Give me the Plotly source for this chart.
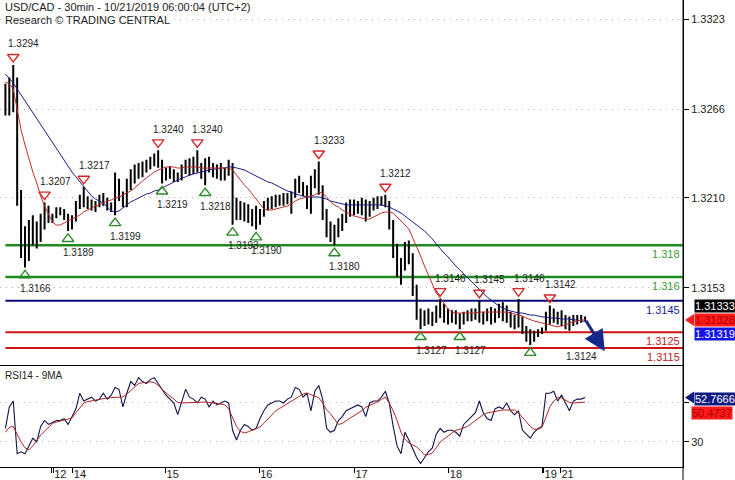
import plotly.graph_objects as go

# ---------------- data ----------------
bar_open = [1.3272,1.3278,1.3268,1.3284,1.3212,1.3180,1.3175,1.3190,1.3185,1.3188,
            1.3197,1.3203,1.3196,1.3198,1.3203,1.3202,1.3198,1.3193,1.3197,1.3205,
            1.3209,1.3207,1.3206,1.3204,1.3207,1.3210,1.3207,1.3204,1.3203,1.3218,
            1.3212,1.3206,1.3219,1.3224,1.3228,1.3225,1.3230,1.3229,1.3234,1.3236,
            1.3232,1.3224,1.3227,1.3225,1.3223,1.3222,1.3229,1.3231,1.3227,1.3233,
            1.3230,1.3225,1.3232,1.3229,1.3227,1.3229,1.3224,1.3227,1.3231,1.3202,
            1.3200,1.3204,1.3198,1.3201,1.3195,1.3198,1.3201,1.3206,1.3207,1.3208,
            1.3209,1.3210,1.3211,1.3210,1.3212,1.3219,1.3217,1.3214,1.3208,1.3221,
            1.3225,1.3216,1.3200,1.3190,1.3186,1.3188,1.3194,1.3196,1.3204,1.3206,
            1.3202,1.3205,1.3207,1.3201,1.3205,1.3208,1.3209,1.3210,1.3207,1.3194,
            1.3178,1.3165,1.3168,1.3178,1.3172,1.3152,1.3137,1.3132,1.3136,1.3134,
            1.3135,1.3139,1.3141,1.3135,1.3136,1.3137,1.3133,1.3134,1.3136,1.3137,
            1.3135,1.3138,1.3134,1.3136,1.3138,1.3134,1.3138,1.3137,1.3139,1.3135,
            1.3132,1.3131,1.3133,1.3127,1.3123,1.3121,1.3124,1.3126,1.3127,1.3135,
            1.3137,1.3134,1.3136,1.3132,1.3131,1.3133,1.3134,1.3133,1.3134]
bar_high = [1.3282,1.3286,1.3294,1.3286,1.3215,1.3192,1.3196,1.3199,1.3195,1.3200,
            1.3207,1.3205,1.3200,1.3204,1.3204,1.3203,1.3200,1.3199,1.3208,1.3212,
            1.3217,1.3211,1.3209,1.3208,1.3212,1.3213,1.3210,1.3207,1.3226,1.3222,
            1.3214,1.3222,1.3228,1.3231,1.3232,1.3233,1.3234,1.3236,1.3238,1.3240,
            1.3234,1.3229,1.3230,1.3228,1.3226,1.3231,1.3234,1.3235,1.3236,1.3240,
            1.3232,1.3235,1.3236,1.3232,1.3231,1.3232,1.3229,1.3234,1.3232,1.3210,
            1.3208,1.3207,1.3206,1.3203,1.3205,1.3203,1.3208,1.3210,1.3211,1.3212,
            1.3212,1.3213,1.3213,1.3214,1.3222,1.3224,1.3220,1.3218,1.3224,1.3228,
            1.3233,1.3218,1.3203,1.3195,1.3193,1.3197,1.3200,1.3207,1.3209,1.3209,
            1.3208,1.3210,1.3209,1.3208,1.3210,1.3211,1.3211,1.3212,1.3208,1.3196,
            1.3181,1.3172,1.3182,1.3183,1.3175,1.3155,1.3140,1.3139,1.3140,1.3138,
            1.3142,1.3146,1.3143,1.3140,1.3139,1.3139,1.3137,1.3138,1.3139,1.3140,
            1.3140,1.3145,1.3138,1.3140,1.3141,1.3140,1.3143,1.3144,1.3142,1.3138,
            1.3136,1.3146,1.3135,1.3129,1.3127,1.3126,1.3127,1.3128,1.3138,1.3142,
            1.3140,1.3138,1.3139,1.3136,1.3135,1.3136,1.3136,1.3136,1.3135]
bar_low = [1.3262,1.3262,1.3264,1.3205,1.3172,1.3166,1.3170,1.3180,1.3178,1.3182,
           1.3190,1.3194,1.3194,1.3197,1.3199,1.3196,1.3189,1.3190,1.3195,1.3203,
           1.3204,1.3203,1.3202,1.3201,1.3204,1.3205,1.3202,1.3201,1.3199,1.3208,
           1.3204,1.3204,1.3215,1.3219,1.3222,1.3223,1.3226,1.3228,1.3230,1.3229,
           1.3219,1.3221,1.3222,1.3220,1.3220,1.3221,1.3225,1.3224,1.3225,1.3226,
           1.3222,1.3218,1.3226,1.3223,1.3222,1.3221,1.3221,1.3224,1.3193,1.3196,
           1.3196,1.3195,1.3194,1.3192,1.3190,1.3193,1.3198,1.3202,1.3203,1.3204,
           1.3205,1.3205,1.3206,1.3200,1.3210,1.3213,1.3211,1.3203,1.3200,1.3216,
           1.3212,1.3196,1.3185,1.3182,1.3180,1.3185,1.3189,1.3194,1.3198,1.3199,
           1.3200,1.3199,1.3195,1.3198,1.3202,1.3203,1.3205,1.3204,1.3190,1.3172,
           1.3160,1.3155,1.3164,1.3168,1.3148,1.3133,1.3127,1.3129,1.3130,1.3129,
           1.3131,1.3134,1.3131,1.3130,1.3131,1.3130,1.3127,1.3130,1.3132,1.3132,
           1.3133,1.3131,1.3130,1.3132,1.3130,1.3131,1.3134,1.3132,1.3131,1.3128,
           1.3127,1.3128,1.3124,1.3119,1.3117,1.3119,1.3122,1.3124,1.3126,1.3130,
           1.3131,1.3130,1.3129,1.3127,1.3126,1.3129,1.3130,1.3131,1.3132]
bar_close = [1.3278,1.3268,1.3284,1.3212,1.3180,1.3175,1.3190,1.3185,1.3188,1.3197,
             1.3203,1.3196,1.3198,1.3203,1.3202,1.3198,1.3193,1.3197,1.3205,1.3209,
             1.3207,1.3206,1.3204,1.3207,1.3210,1.3207,1.3204,1.3203,1.3218,1.3212,
             1.3206,1.3219,1.3224,1.3228,1.3225,1.3230,1.3229,1.3234,1.3236,1.3232,
             1.3224,1.3227,1.3225,1.3223,1.3222,1.3229,1.3231,1.3227,1.3233,1.3230,
             1.3225,1.3232,1.3229,1.3227,1.3229,1.3224,1.3227,1.3231,1.3202,1.3200,
             1.3204,1.3198,1.3201,1.3195,1.3198,1.3201,1.3206,1.3207,1.3208,1.3209,
             1.3210,1.3211,1.3210,1.3212,1.3219,1.3217,1.3214,1.3208,1.3221,1.3225,
             1.3216,1.3200,1.3190,1.3186,1.3188,1.3194,1.3196,1.3204,1.3206,1.3202,
             1.3205,1.3207,1.3201,1.3205,1.3208,1.3209,1.3210,1.3207,1.3194,1.3178,
             1.3165,1.3168,1.3178,1.3172,1.3152,1.3137,1.3132,1.3136,1.3134,1.3135,
             1.3139,1.3141,1.3135,1.3136,1.3137,1.3133,1.3134,1.3136,1.3137,1.3135,
             1.3138,1.3134,1.3136,1.3138,1.3134,1.3138,1.3137,1.3139,1.3135,1.3132,
             1.3131,1.3133,1.3127,1.3123,1.3121,1.3124,1.3126,1.3127,1.3135,1.3137,
             1.3134,1.3136,1.3132,1.3131,1.3133,1.3134,1.3133,1.3134,1.31333]

ma_fast = [1.32832,1.32819,1.32788,1.32668,1.32529,1.32434,1.32339,1.32263,1.32194,1.32111,
           1.32048,1.31998,1.31947,1.31928,1.31928,1.31941,1.31953,1.31966,1.31979,1.31991,
           1.32010,1.32023,1.32036,1.32048,1.32055,1.32067,1.32080,1.32086,1.32099,1.32105,
           1.32118,1.32130,1.32143,1.32162,1.32187,1.32206,1.32225,1.32244,1.32263,1.32276,
           1.32288,1.32295,1.32295,1.32295,1.32288,1.32288,1.32295,1.32295,1.32295,1.32295,
           1.32288,1.32288,1.32288,1.32288,1.32288,1.32288,1.32288,1.32288,1.32276,1.32244,
           1.32213,1.32181,1.32156,1.32124,1.32086,1.32055,1.32029,1.32023,1.32023,1.32029,
           1.32036,1.32042,1.32048,1.32061,1.32080,1.32092,1.32099,1.32105,1.32111,1.32118,
           1.32137,1.32130,1.32105,1.32074,1.32055,1.32042,1.32023,1.32010,1.31998,1.31985,
           1.31979,1.31972,1.31966,1.31966,1.31979,1.31991,1.32004,1.32010,1.32010,1.32004,
           1.31979,1.31953,1.31928,1.31903,1.31846,1.31794,1.31732,1.31669,1.31612,1.31549,
           1.31498,1.31467,1.31429,1.31397,1.31378,1.31372,1.31372,1.31372,1.31372,1.31372,
           1.31372,1.31378,1.31378,1.31378,1.31378,1.31378,1.31378,1.31378,1.31378,1.31372,
           1.31366,1.31359,1.31353,1.31340,1.31328,1.31321,1.31315,1.31309,1.31303,1.31296,
           1.31290,1.31284,1.31290,1.31296,1.31309,1.31315,1.31321,1.31328,1.31328]
ma_slow = [1.32882,1.32857,1.32826,1.32788,1.32750,1.32712,1.32674,1.32636,1.32598,1.32560,
           1.32522,1.32484,1.32446,1.32408,1.32371,1.32333,1.32295,1.32263,1.32232,1.32200,
           1.32168,1.32137,1.32111,1.32092,1.32080,1.32067,1.32042,1.32017,1.32010,1.32017,
           1.32036,1.32055,1.32074,1.32086,1.32099,1.32111,1.32124,1.32130,1.32143,1.32149,
           1.32162,1.32175,1.32187,1.32200,1.32213,1.32225,1.32232,1.32244,1.32250,1.32257,
           1.32263,1.32269,1.32276,1.32282,1.32282,1.32288,1.32288,1.32295,1.32295,1.32288,
           1.32282,1.32276,1.32263,1.32250,1.32238,1.32225,1.32213,1.32200,1.32194,1.32181,
           1.32168,1.32156,1.32143,1.32137,1.32124,1.32118,1.32111,1.32105,1.32105,1.32105,
           1.32105,1.32099,1.32092,1.32080,1.32074,1.32067,1.32061,1.32055,1.32055,1.32055,
           1.32055,1.32055,1.32055,1.32055,1.32055,1.32055,1.32055,1.32048,1.32042,1.32029,
           1.32017,1.32004,1.31985,1.31966,1.31947,1.31928,1.31909,1.31890,1.31865,1.31840,
           1.31808,1.31777,1.31751,1.31726,1.31694,1.31669,1.31644,1.31619,1.31593,1.31568,
           1.31543,1.31517,1.31492,1.31473,1.31454,1.31435,1.31416,1.31404,1.31391,1.31385,
           1.31378,1.31372,1.31372,1.31366,1.31359,1.31359,1.31353,1.31347,1.31347,1.31340,
           1.31340,1.31340,1.31334,1.31334,1.31334,1.31328,1.31328,1.31322,1.31319]

rsi = [37,48,51,24,25,24,28,32,30,38,
       41,39,40,41,41,42,39,43,47,55,
       51,52,53,51,52,55,52,54,58,57,
       48,55,61,59,63,61,60,62,63,60,
       57,54,52,50,44,51,57,53,52,50,
       53,52,48,51,49,50,51,50,36,31,
       36,39,38,36,37,42,46,49,50,51,
       51,50,52,53,58,57,53,55,46,56,
       59,52,37,35,36,41,43,46,47,48,
       49,48,43,50,51,51,53,56,50,38,
       28,24,35,31,26,22,19,22,25,27,
       34,37,35,36,36,35,33,39,41,43,
       45,51,45,42,41,47,48,47,50,46,
       44,46,36,34,32,35,37,38,55,55,
       56,51,54,50,46,51,52,52,52.7666]
rsi_ma = [35,37.5,38,34,30,27,26,28,31,33.5,
          35.5,37.5,39.5,40.2,40.8,41.3,41.8,42.3,45,47.5,
          50,50.7,51.1,51.5,51.9,52.3,52.6,52.7,52.9,53,
          53.1,54.6,56.3,58,60,60.4,60.6,60.8,60.5,59,
          57,55.1,53.5,52,50.3,50,50.1,50.2,50.3,50.4,
          50.5,50.5,50.3,50,49.7,49.4,49.1,47,42.8,38,
          35.5,34.6,35.2,36.1,37,37.7,39.6,41.6,43.9,46,
          47.2,48.4,49.7,51.2,52.3,53.5,54.6,55.1,54.4,53.5,
          52.7,50,46.5,44.5,41.5,39,39.5,41,42.3,43.5,
          44.8,46,47.8,48.6,49.5,50.6,51.8,53,50,46,
          41,35,31.5,29.5,28.5,27.5,25.5,23.5,23.5,24.4,
          27,30,31.6,33,34.5,36,36.5,37.2,38,39.5,
          41,42.5,44,44.9,45.3,45.7,46.1,46.4,46.4,46.4,
          46.4,45,42.5,40,38,36.5,36.5,37.5,42.5,48,
          51,52.8,52.5,51.5,50.3,50,50.2,50.4,50.4737]

levels = [1.318, 1.316, 1.3145, 1.3125, 1.3115]
level_labels = ["1.318", "1.316", "1.3145", "1.3125", "1.3115"]
price_ticks = [1.3153, 1.3210, 1.3266, 1.3323]
rsi_ticks = [30, 50]
rsi_tick_labels = ["30", ""]
day_tick_pos = [11.8, 12.2, 17.2, 40.9, 64.8, 89.1, 113.2, 137.0, 137.4, 141.7]
day_tick_labels = ["", "12", "14", "15", "16", "17", "18", "", "19", "21"]

swing_high_bar = [2, 10, 20, 39, 49, 80, 97, 111, 121, 131, 139]
swing_high_text = ["1.3294", "1.3207", "1.3217", "1.3240", "1.3240", "1.3233",
                   "1.3212", "1.3146", "1.3145", "1.3146", "1.3142"]
swing_low_bar = [5, 16, 28, 40, 51, 58, 64, 84, 106, 116, 134]
swing_low_text = ["1.3166", "1.3189", "1.3199", "1.3219", "1.3218", "1.3193",
                  "1.3190", "1.3180", "1.3127", "1.3127", "1.3124"]

forecast_bars_ahead = 5
forecast_target = 1.3113

title_line1 = "USD/CAD - 30min - 10/21/2019 06:00:04 (UTC+2)"
title_line2 = "Research © TRADING CENTRAL"
rsi_title = "RSI14 - 9MA"

# ---------------- styles ----------------
FONT = "Liberation Sans, Arial, sans-serif"
GREEN = "#1f8a1f"
NAVY = "#0b0b7a"
RED = "#d01515"
level_line_colors = [GREEN, GREEN, NAVY, RED, RED]
level_text_colors = ["#3c9a3c", "#3c9a3c", "#23239a", "#c42020", "#c42020"]
X_RANGE = [-1.38, 173.0]
Y_RANGE = [1.310371, 1.3335007]
RSI_RANGE = [17.18, 68.97]
SPLIT = 0.2163
HOFF = 0.0005  # marker gap from the wick

n = len(bar_close)
x = list(range(n))

fig = go.Figure()
fig.add_trace(go.Ohlc(x=x, open=bar_open, high=bar_high, low=bar_low, close=bar_close,
                      increasing=dict(line=dict(color="black", width=2)),
                      decreasing=dict(line=dict(color="black", width=2)),
                      tickwidth=0.18, hoverinfo="skip", showlegend=False,
                      xaxis="x", yaxis="y"))
fig.add_trace(go.Scatter(x=x, y=ma_slow, mode="lines", line=dict(color="#1c1c8c", width=1),
                         hoverinfo="skip", showlegend=False))
fig.add_trace(go.Scatter(x=x, y=ma_fast, mode="lines", line=dict(color="#c0302a", width=1),
                         hoverinfo="skip", showlegend=False))
fig.add_trace(go.Scatter(x=swing_high_bar, y=[bar_high[i] + HOFF for i in swing_high_bar],
                         mode="markers", hoverinfo="skip", showlegend=False,
                         marker=dict(symbol="triangle-down-open", size=10, color="#d42a2a",
                                     line=dict(width=1.4, color="#d42a2a"))))
fig.add_trace(go.Scatter(x=swing_low_bar, y=[bar_low[i] - HOFF for i in swing_low_bar],
                         mode="markers", hoverinfo="skip", showlegend=False,
                         marker=dict(symbol="triangle-up-open", size=10, color="#2a8a2a",
                                     line=dict(width=1.4, color="#2a8a2a"))))
fig.add_trace(go.Scatter(x=x, y=rsi, mode="lines", line=dict(color="#12124a", width=1.1),
                         xaxis="x2", yaxis="y2", hoverinfo="skip", showlegend=False))
fig.add_trace(go.Scatter(x=x, y=rsi_ma, mode="lines", line=dict(color="#b02525", width=1),
                         xaxis="x2", yaxis="y2", hoverinfo="skip", showlegend=False))

shapes = []
for lv, col in zip(levels, level_line_colors):
    shapes.append(dict(type="line", xref="x", yref="y", x0=0, x1=X_RANGE[1], y0=lv, y1=lv,
                       line=dict(color=col, width=2.5 if col == GREEN else 2), layer="below"))
# right axis line extending into the date strip
shapes.append(dict(type="line", xref="paper", yref="paper", x0=1, x1=1, y0=-0.03, y1=1,
                   line=dict(color="black", width=1)))
# pointer tabs of the value boxes
shapes.append(dict(type="path", xref="paper", yref="y", xsizemode="pixel", ysizemode="pixel",
                   xanchor=1, yanchor=ma_fast[-1], path="M 2,0 L 11,6 L 11,-6 Z",
                   fillcolor="#ff1a1a", line=dict(width=0)))
shapes.append(dict(type="path", xref="paper", yref="y2", xsizemode="pixel", ysizemode="pixel",
                   xanchor=1, yanchor=rsi[-1], path="M 2,0 L 11,6 L 11,-6 Z",
                   fillcolor="#0d1a80", line=dict(width=0)))

ann = []
ann.append(dict(xref="paper", yref="paper", x=0.004, y=0.985, xanchor="left", yanchor="middle",
                text=title_line1, showarrow=False, bgcolor="white",
                font=dict(family=FONT, size=11, color="#222")))
ann.append(dict(xref="paper", yref="paper", x=0.004, y=0.957, xanchor="left", yanchor="middle",
                text=title_line2, showarrow=False, bgcolor="white",
                font=dict(family=FONT, size=11, color="#222")))
ann.append(dict(xref="paper", yref="paper", x=0.004, y=0.196, xanchor="left", yanchor="middle",
                text=rsi_title, showarrow=False, font=dict(family=FONT, size=10, color="#222")))
for lv, lab, col in zip(levels, level_labels, level_text_colors):
    ann.append(dict(xref="paper", yref="y", x=1, y=lv, xanchor="right", yanchor="top",
                    xshift=-1, yshift=-1, text=lab, showarrow=False,
                    font=dict(family=FONT, size=11, color=col)))
for i, t in zip(swing_high_bar, swing_high_text):
    ann.append(dict(xref="x", yref="y", x=i, y=bar_high[i], xanchor="left", yanchor="middle",
                    xshift=-7, yshift=21, text=t, showarrow=False,
                    font=dict(family=FONT, size=10, color="#222")))
for i, t in zip(swing_low_bar, swing_low_text):
    last = (i == swing_low_bar[-1])
    ann.append(dict(xref="x", yref="y", x=i, y=bar_low[i], xanchor="left", yanchor="middle",
                    xshift=34 if last else -7, yshift=-12 if last else -21, text=t,
                    showarrow=False, font=dict(family=FONT, size=10, color="#222")))
# value boxes on the right
box = dict(xref="paper", x=1, xanchor="left", xshift=11, showarrow=False, borderpad=0,
           yanchor="middle")
ann.append(dict(box, yref="y", y=bar_close[-1], yshift=13, text="%.5f" % bar_close[-1],
                bgcolor="black", font=dict(family=FONT, size=11, color="white")))
ann.append(dict(box, yref="y", y=ma_fast[-1], yshift=0, text="%.5f" % ma_fast[-1],
                bgcolor="#ff1a1a", font=dict(family=FONT, size=11, color="#a80000")))
ann.append(dict(box, yref="y", y=ma_slow[-1], yshift=-13, text="%.5f" % ma_slow[-1],
                bgcolor="#1414e6", font=dict(family=FONT, size=11, color="white")))
ann.append(dict(box, yref="y2", y=rsi[-1], yshift=-1, text="%.4f" % rsi[-1],
                bgcolor="#0d1a80", font=dict(family=FONT, size=11, color="white")))
ann.append(dict(box, yref="y2", y=rsi_ma[-1], xshift=8, yshift=-11, text="%.4f" % rsi_ma[-1],
                bgcolor="#ff1a1a", font=dict(family=FONT, size=11, color="#a80000")))
# forecast arrow
ann.append(dict(xref="x", yref="y", axref="x", ayref="y",
                x=n - 1 + forecast_bars_ahead, y=forecast_target,
                ax=n - 1, ay=bar_close[-1], text="", showarrow=True,
                arrowhead=2, arrowsize=1.4, arrowwidth=3, arrowcolor="#14288c",
                standoff=0, startstandoff=0))

grid = dict(showgrid=True, gridcolor="#b0b0b0", griddash="1px,5px", gridwidth=1)
fig.update_layout(
    width=735, height=480, margin=dict(l=0, r=52, t=0, b=13, autoexpand=False),
    paper_bgcolor="white", plot_bgcolor="white", showlegend=False,
    font=dict(family=FONT, size=11, color="#222"),
    shapes=shapes, annotations=ann,
    xaxis=dict(domain=[0, 1], range=X_RANGE, anchor="y", visible=False, automargin=False,
               rangeslider=dict(visible=False), showgrid=False, zeroline=False),
    yaxis=dict(domain=[SPLIT, 1], range=Y_RANGE, anchor="x", side="right", automargin=False,
               tickvals=price_ticks, ticktext=["%.4f" % v for v in price_ticks],
               ticks="outside", ticklen=5, tickcolor="black", showline=True,
               linecolor="black", linewidth=1, zeroline=False,
               tickfont=dict(family=FONT, size=11, color="#222"), **grid),
    xaxis2=dict(domain=[0, 1], range=X_RANGE, anchor="y2", matches="x", automargin=False,
                tickvals=day_tick_pos, ticktext=day_tick_labels, ticks="outside",
                ticklen=5, tickcolor="black", showline=True, mirror=True, tickangle=0,
                linecolor="black", linewidth=1, showgrid=False, zeroline=False,
                ticklabelposition="outside right", ticklabelstandoff=-3,
                tickfont=dict(family=FONT, size=11, color="#222")),
    yaxis2=dict(domain=[0, SPLIT], range=RSI_RANGE, anchor="x2", side="right", automargin=False,
                tickvals=rsi_ticks, ticktext=rsi_tick_labels, ticks="outside", ticklen=5,
                tickcolor="black", showline=True, linecolor="black", linewidth=1,
                zeroline=False, tickfont=dict(family=FONT, size=11, color="#222"), **grid),
)
fig.write_html("out.html", config={"displayModeBar": False},
               post_script="document.body.style.margin='0';document.body.style.overflow='hidden';")
